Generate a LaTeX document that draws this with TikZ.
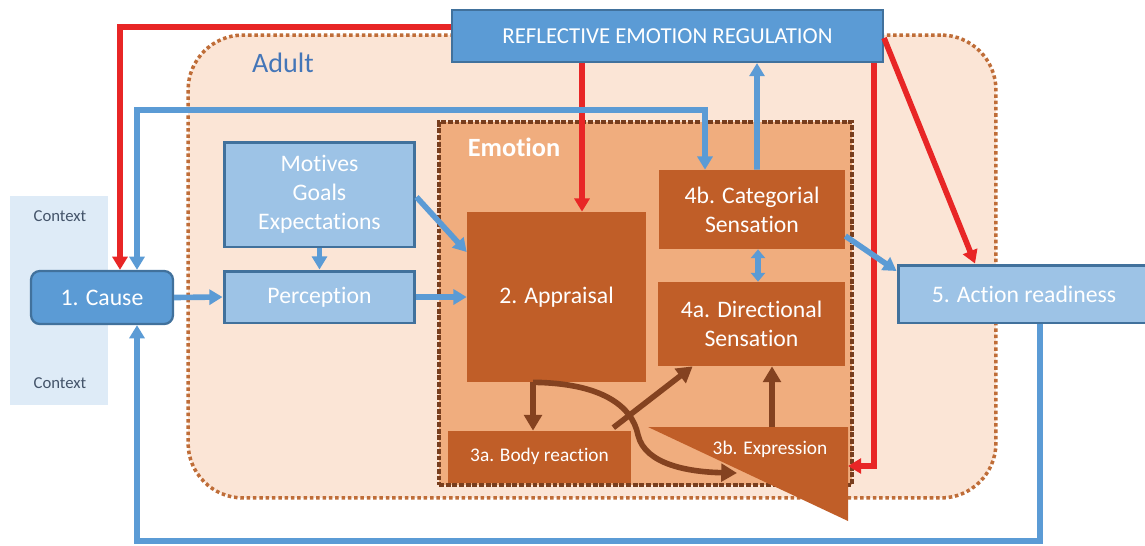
\documentclass[tikz,border=0pt]{standalone}
\usepackage{fontspec}
\setmainfont{Carlito}[Ligatures=NoCommon]
\usetikzlibrary{arrows.meta}

\definecolor{ctxblue}{RGB}{222,235,247}
\definecolor{ctxtext}{RGB}{68,84,106}
\definecolor{adultfill}{RGB}{251,229,214}
\definecolor{adultline}{RGB}{191,109,56}
\definecolor{emofill}{RGB}{240,173,126}
\definecolor{emoline}{RGB}{120,62,30}
\definecolor{boxorange}{RGB}{192,94,40}
\definecolor{arrbrown}{RGB}{132,66,32}
\definecolor{midblue}{RGB}{91,155,213}
\definecolor{lightblue}{RGB}{157,195,230}
\definecolor{darkblue}{RGB}{65,113,156}
\definecolor{arrred}{RGB}{232,38,38}
\definecolor{adultblue}{RGB}{68,118,184}

\tikzset{
  bluebox/.style={draw=darkblue, line width=1.7pt, fill=lightblue, text=white, align=center, inner sep=0pt, font=\fontsize{13.5}{16.5}\selectfont},
  orangebox/.style={fill=boxorange, text=white, align=center, inner sep=0pt, font=\fontsize{13.5}{16.5}\selectfont},
  ctxlabel/.style={text=ctxtext, font=\fontsize{9.5}{11}\selectfont},
  bluearr/.style={->, draw=midblue, line width=3.2pt},
  redarr/.style={->, draw=arrred, line width=3.2pt},
  brownarr/.style={->, draw=arrbrown, line width=3.2pt, >={Triangle[length=9pt,width=10pt]}},
}

\begin{document}
\begin{tikzpicture}[x=0.02cm, y=-0.02cm, >={Triangle[length=7.5pt,width=8.5pt]}]
  \useasboundingbox (0,0) rectangle (1145,545);

  % Context background
  \node[fill=ctxblue, minimum width=1.96cm, minimum height=4.18cm, inner sep=0pt] (context) at (59,300.5) {};
  \node[ctxlabel] (ctxtop) at (60,216) {Context};
  \node[ctxlabel] (ctxbot) at (60,383) {Context};

  % Adult area
  \node[draw=adultline, fill=adultfill, line width=2pt, dash pattern=on 2pt off 1.6pt,
        rounded corners=1.1cm, minimum width=16.16cm, minimum height=9.26cm, inner sep=0pt] (adult) at (592,266.5) {};
  \node[text=adultblue, font=\fontsize{16}{18}\selectfont] (adultlabel) at (283,63) {Adult};

  % Regulation box
  \node[draw=darkblue, line width=1.2pt, fill=midblue, text=white, inner sep=0pt,
        minimum width=8.62cm, minimum height=1.04cm, font=\fontsize{13}{15}\selectfont] (reg) at (667.5,36) {REFLECTIVE EMOTION REGULATION};

  % Left boxes
  \node[bluebox, minimum width=3.82cm, minimum height=2.1cm] (motives) at (319.5,194.5) {Motives\\Goals\\Expectations};
  \node[bluebox, minimum width=3.82cm, minimum height=1.04cm] (perc) at (319.5,297) {Perception};
  \node[bluebox, fill=midblue, line width=1.3pt, rounded corners=5pt, minimum width=2.84cm, minimum height=1.06cm] (cause) at (102,297.5) {1. Cause};
  \node[bluebox, minimum width=5.04cm, minimum height=1.16cm] (action) at (1024,294) {5. Action readiness};

  % Emotion area
  \node[draw=emoline, fill=emofill, line width=2pt, dash pattern=on 2.8pt off 1pt,
        minimum width=8.26cm, minimum height=7.26cm, inner sep=0pt] (emotion) at (645.5,303.5) {};
  \node[text=white, font=\bfseries\fontsize{15}{17}\selectfont] (emolabel) at (514,147) {Emotion};

  \node[orangebox, minimum width=3.58cm, minimum height=3.4cm] (appraisal) at (556.5,297) {2. Appraisal};
  \node[orangebox, minimum width=3.72cm, minimum height=1.58cm] (cat) at (752,209.5) {4b. Categorial\\Sensation};
  \node[orangebox, minimum width=3.74cm, minimum height=1.68cm] (dir) at (751.5,324) {4a. Directional\\Sensation};
  \node[orangebox, minimum width=3.66cm, minimum height=1.04cm, font=\fontsize{11}{13}\selectfont] (body) at (539.5,457) {\raisebox{2pt}{3a. Body reaction}};
  \fill[boxorange] (648,427) -- (848,427) -- (848,521) -- cycle;
  \node[text=white, font=\fontsize{11}{13}\selectfont] (expr) at (770,449) {3b. Expression};

  % Points for the connectors
  \coordinate (exprtop) at (772,427);
  \coordinate (exprright) at (848,466);
  \coordinate (redx) at (582,0);
  \coordinate (bodyx) at (533,0);
  \coordinate (toploop) at (705,110);
  \coordinate (botloop) at (137,541);
  \coordinate (curveend) at (737,473);

  % Red arrows
  \draw[redarr] ([yshift=0.18cm]reg.west) -| ([xshift=0.36cm]cause.north);
  \draw[redarr] (reg.south -| redx) -- (appraisal.north -| redx);
  \draw[redarr] (reg.south -| 874,0) |- (exprright);
  \draw[redarr] ([yshift=-0.04cm]reg.east) -- ([xshift=-0.98cm]action.north);

  % Blue arrows
  \draw[bluearr] (cause.east) -- (perc.west);
  \draw[bluearr] (motives.south) -- (perc.north);
  \draw[bluearr] ([yshift=-0.05cm]motives.east) -- ([yshift=0.9cm]appraisal.west);
  \draw[bluearr] (perc.east) -- (appraisal.west |- perc.east);
  \draw[bluearr, <->] ([xshift=0.7cm]cause.north) |- (toploop) -- (cat.north -| toploop);
  \draw[bluearr] ([xshift=0.1cm]cat.north) -- (reg.south -| 757,0);
  \draw[bluearr, <->, >={Triangle[length=5pt,width=8pt]}] ([xshift=0.12cm]cat.south) -- ([xshift=0.13cm]dir.north);
  \draw[bluearr] ([yshift=-0.53cm]cat.east) -- ([yshift=0.46cm]action.west);
  \draw[bluearr] ([xshift=0.32cm]action.south) |- (botloop) -- (cause.south -| botloop);

  % Brown arrows
  \draw[brownarr] (appraisal.south -| bodyx) -- (body.north -| bodyx);
  \draw[brownarr] ([xshift=-0.36cm,yshift=0.06cm]body.north east) -- ([xshift=0.7cm]dir.south west);
  \draw[brownarr] (appraisal.south -| bodyx) .. controls (600,383) and (632,405) .. (638,435)
                  .. controls (645,465) and (690,472) .. (curveend);
  \draw[brownarr] (exprtop) -- (dir.south -| exprtop);
\end{tikzpicture}
\end{document}
